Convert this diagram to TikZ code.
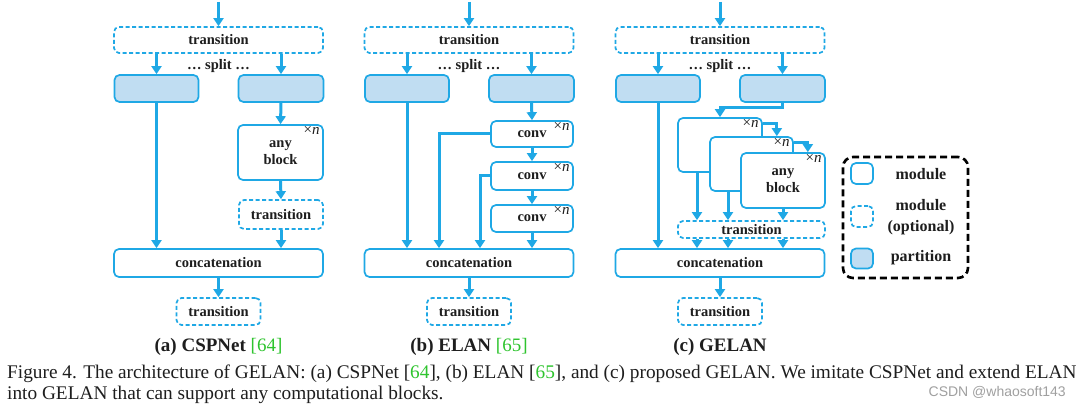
\documentclass[tikz,border=0pt]{standalone}
\usepackage{fontspec}
\setmainfont{Liberation Serif}
\newfontfamily\wmfont{Liberation Sans}
\usepackage{xcolor}
\usetikzlibrary{calc,arrows.meta}
\definecolor{gelanblue}{HTML}{1FA8E5}
\definecolor{partblue}{HTML}{C0DDF2}
\definecolor{citegreen}{HTML}{2EC42E}
\definecolor{ink}{HTML}{1E1E1E}
\definecolor{mark}{HTML}{A0A0A0}
\tikzset{
  box/.style={draw=gelanblue, line width=1.7pt, rounded corners=5pt, fill=white,
    inner sep=0pt, text=ink, align=center,
    font=\fontsize{14.5}{17}\selectfont\bfseries},
  dbox/.style={box, dash pattern=on 4pt off 2.5pt},
  part/.style={box, fill=partblue},
  arr/.style={draw=gelanblue, line width=3pt, -{Triangle[width=10pt,length=8pt]}},
  times/.style={anchor=north east, inner sep=1pt, text=ink,
    font=\fontsize{15}{15}\selectfont},
  legtext/.style={text=ink, align=center, inner sep=0pt,
    font=\fontsize{16}{21}\selectfont\bfseries},
}
% top part of a panel: #1 prefix, #2 centre x
\newcommand{\Head}[2]{%
  \coordinate (#1in) at (#2,2);
  \node[dbox, minimum width=209pt, minimum height=26pt] (#1trans) at (#2,40) {transition};
  \node[text=ink, inner sep=0pt, font=\fontsize{14.5}{17}\selectfont\bfseries] (#1split) at (#2,66) {\dots\ split \dots};
  \node[part, minimum width=84pt, minimum height=27pt] (#1pL) at ({#2-62},88.5) {};
  \node[part, minimum width=85pt, minimum height=27pt] (#1pR) at ({#2+62.5},88.5) {};
  \draw[arr] (#1in) -- (#1trans.north);
  \draw[arr] (#1trans.south -| #1pL.south) -- (#1pL.north);
  \draw[arr] (#1trans.south -| #1pR.south) -- (#1pR.north);
}
% bottom part of a panel: #1 prefix, #2 centre x, #3 title
\newcommand{\Foot}[3]{%
  \node[box, minimum width=209pt, minimum height=28pt] (#1concat) at (#2,263) {concatenation};
  \node[dbox, minimum width=84pt, minimum height=27pt] (#1out) at (#2,311.5) {transition};
  \node[anchor=base, inner sep=0pt, text=ink, font=\fontsize{19}{22}\selectfont\bfseries] (#1title) at (#2,351) {#3};
  \draw[arr] (#1concat.south) -- (#1out.north);
  \draw[arr] (#1pL.south) -- (#1pL.south |- #1concat.north);
}

\begin{document}
\begin{tikzpicture}[x=1pt, y=-1pt]
  \fill[white] (0,0) rectangle (1080,409);
  \useasboundingbox (0,0) rectangle (1080,409);

  % (a) CSPNet
  \Head{a}{218.5}
  \node[box, minimum width=85pt, minimum height=55pt] (aany) at (280.5,152.5) {any\\block};
  \node[times] (aanyn) at ([xshift=-3pt,yshift=-1pt]aany.north east) {×\textit{n}};
  \node[dbox, minimum width=84pt, minimum height=29pt] (atr) at (281,214.5) {transition};
  \Foot{a}{218.5}{(a) CSPNet \textcolor{citegreen}{\mdseries[64]}}
  \draw[arr] (apR.south) -- (aany.north);
  \draw[arr] (aany.south) -- (atr.north);
  \draw[arr] (atr.south) -- (atr.south |- aconcat.north);

  % (b) ELAN
  \Head{b}{469}
  \node[box, minimum width=82pt, minimum height=26pt] (bc1) at (532,134) {conv};
  \node[box, minimum width=82pt, minimum height=28pt] (bc2) at (532,176) {conv};
  \node[box, minimum width=82pt, minimum height=27pt] (bc3) at (532,218.5) {conv};
  \node[times] (bc1n) at ([xshift=-3pt,yshift=-1pt]bc1.north east) {×\textit{n}};
  \node[times] (bc2n) at ([xshift=-3pt,yshift=-1pt]bc2.north east) {×\textit{n}};
  \node[times] (bc3n) at ([xshift=-3pt,yshift=-1pt]bc3.north east) {×\textit{n}};
  \Foot{b}{469}{(b) ELAN \textcolor{citegreen}{\mdseries[65]}}
  \draw[arr] (bpR.south) -- (bc1.north);
  \draw[arr] (bc1.south) -- (bc2.north);
  \draw[arr] (bc2.south) -- (bc3.north);
  \draw[arr] (bc3.south) -- (bc3.south |- bconcat.north);
  \draw[arr] (bc1.west) -| ([xshift=-30pt]bconcat.north);
  \draw[arr] (bc2.west) -| ([xshift=11pt]bconcat.north);

  % (c) GELAN
  \Head{c}{720}
  \node[box, minimum width=84pt, minimum height=54pt] (cb1) at (720,145) {};
  \node[times] (cb1n) at ([xshift=-3pt,yshift=-1pt]cb1.north east) {×\textit{n}};
  \node[box, minimum width=83pt, minimum height=54pt] (cb2) at (751.5,164) {};
  \node[times] (cb2n) at ([xshift=-3pt,yshift=-1pt]cb2.north east) {×\textit{n}};
  \node[box, minimum width=84pt, minimum height=55pt] (cb3) at (783,180.5) {any\\block};
  \node[times] (cb3n) at ([xshift=-3pt,yshift=-1pt]cb3.north east) {×\textit{n}};
  \node[dbox, minimum width=147pt, minimum height=17pt] (ctr) at (751.5,229.5) {transition};
  \Foot{c}{720}{(c) GELAN}
  \draw[arr] (cpR.south) -- ++(0,5) -| (cb1.north);
  \draw[arr] ([yshift=-6pt]cb1.north east) -| ([xshift=-17pt]cb2.north east);
  \draw[arr] ([yshift=-6pt]cb2.north east) -| ([xshift=-18pt]cb3.north east);
  \draw[arr] ([xshift=-23pt]cb1.south) -- ([xshift=-23pt]cb1.south |- ctr.north);
  \draw[arr] ([xshift=-23.5pt]cb2.south) -- ([xshift=-23.5pt]cb2.south |- ctr.north);
  \draw[arr] (cb3.south) -- (cb3.south |- ctr.north);
  \draw[arr] ([xshift=-23pt]cb1.south |- ctr.south) -- ([xshift=-23pt]cb1.south |- cconcat.north);
  \draw[arr] ([xshift=-23.5pt]cb2.south |- ctr.south) -- ([xshift=-23.5pt]cb2.south |- cconcat.north);
  \draw[arr] (cb3.south |- ctr.south) -- (cb3.south |- cconcat.north);

  % legend
  \node[draw=black, line width=2.6pt, dash pattern=on 7pt off 4pt, rounded corners=10pt,
    minimum width=125pt, minimum height=121pt] (legend) at (905.5,217.5) {};
  \node[box, minimum width=22pt, minimum height=21pt] (lmod) at (862,173.5) {};
  \node[legtext] (lmodt) at (921,174) {module};
  \node[dbox, minimum width=22pt, minimum height=21pt] (lopt) at (862,216.5) {};
  \node[legtext] (loptt) at (921,217.5) {module\\(optional)};
  \node[part, minimum width=22pt, minimum height=20pt] (lpart) at (862,258.5) {};
  \node[legtext] (lpartt) at (921,258) {partition};

  % caption
  \node[anchor=base west, inner sep=0pt, text=ink, font=\fontsize{19.3}{22}\selectfont] (cap1) at (7,378)
    {Figure 4. The architecture of GELAN: (a) CSPNet [\textcolor{citegreen}{64}], (b) ELAN [\textcolor{citegreen}{65}], and (c) proposed GELAN. We imitate CSPNet and extend ELAN};
  \node[anchor=base west, inner sep=0pt, text=ink, font=\fontsize{19.3}{22}\selectfont] (cap2) at (7,399)
    {into GELAN that can support any computational blocks.};
  \node[anchor=base east, inner sep=0pt, text=mark, font=\wmfont\fontsize{14}{16}\selectfont] (wmark) at (1066,396)
    {CSDN @whaosoft143};
\end{tikzpicture}
\end{document}
